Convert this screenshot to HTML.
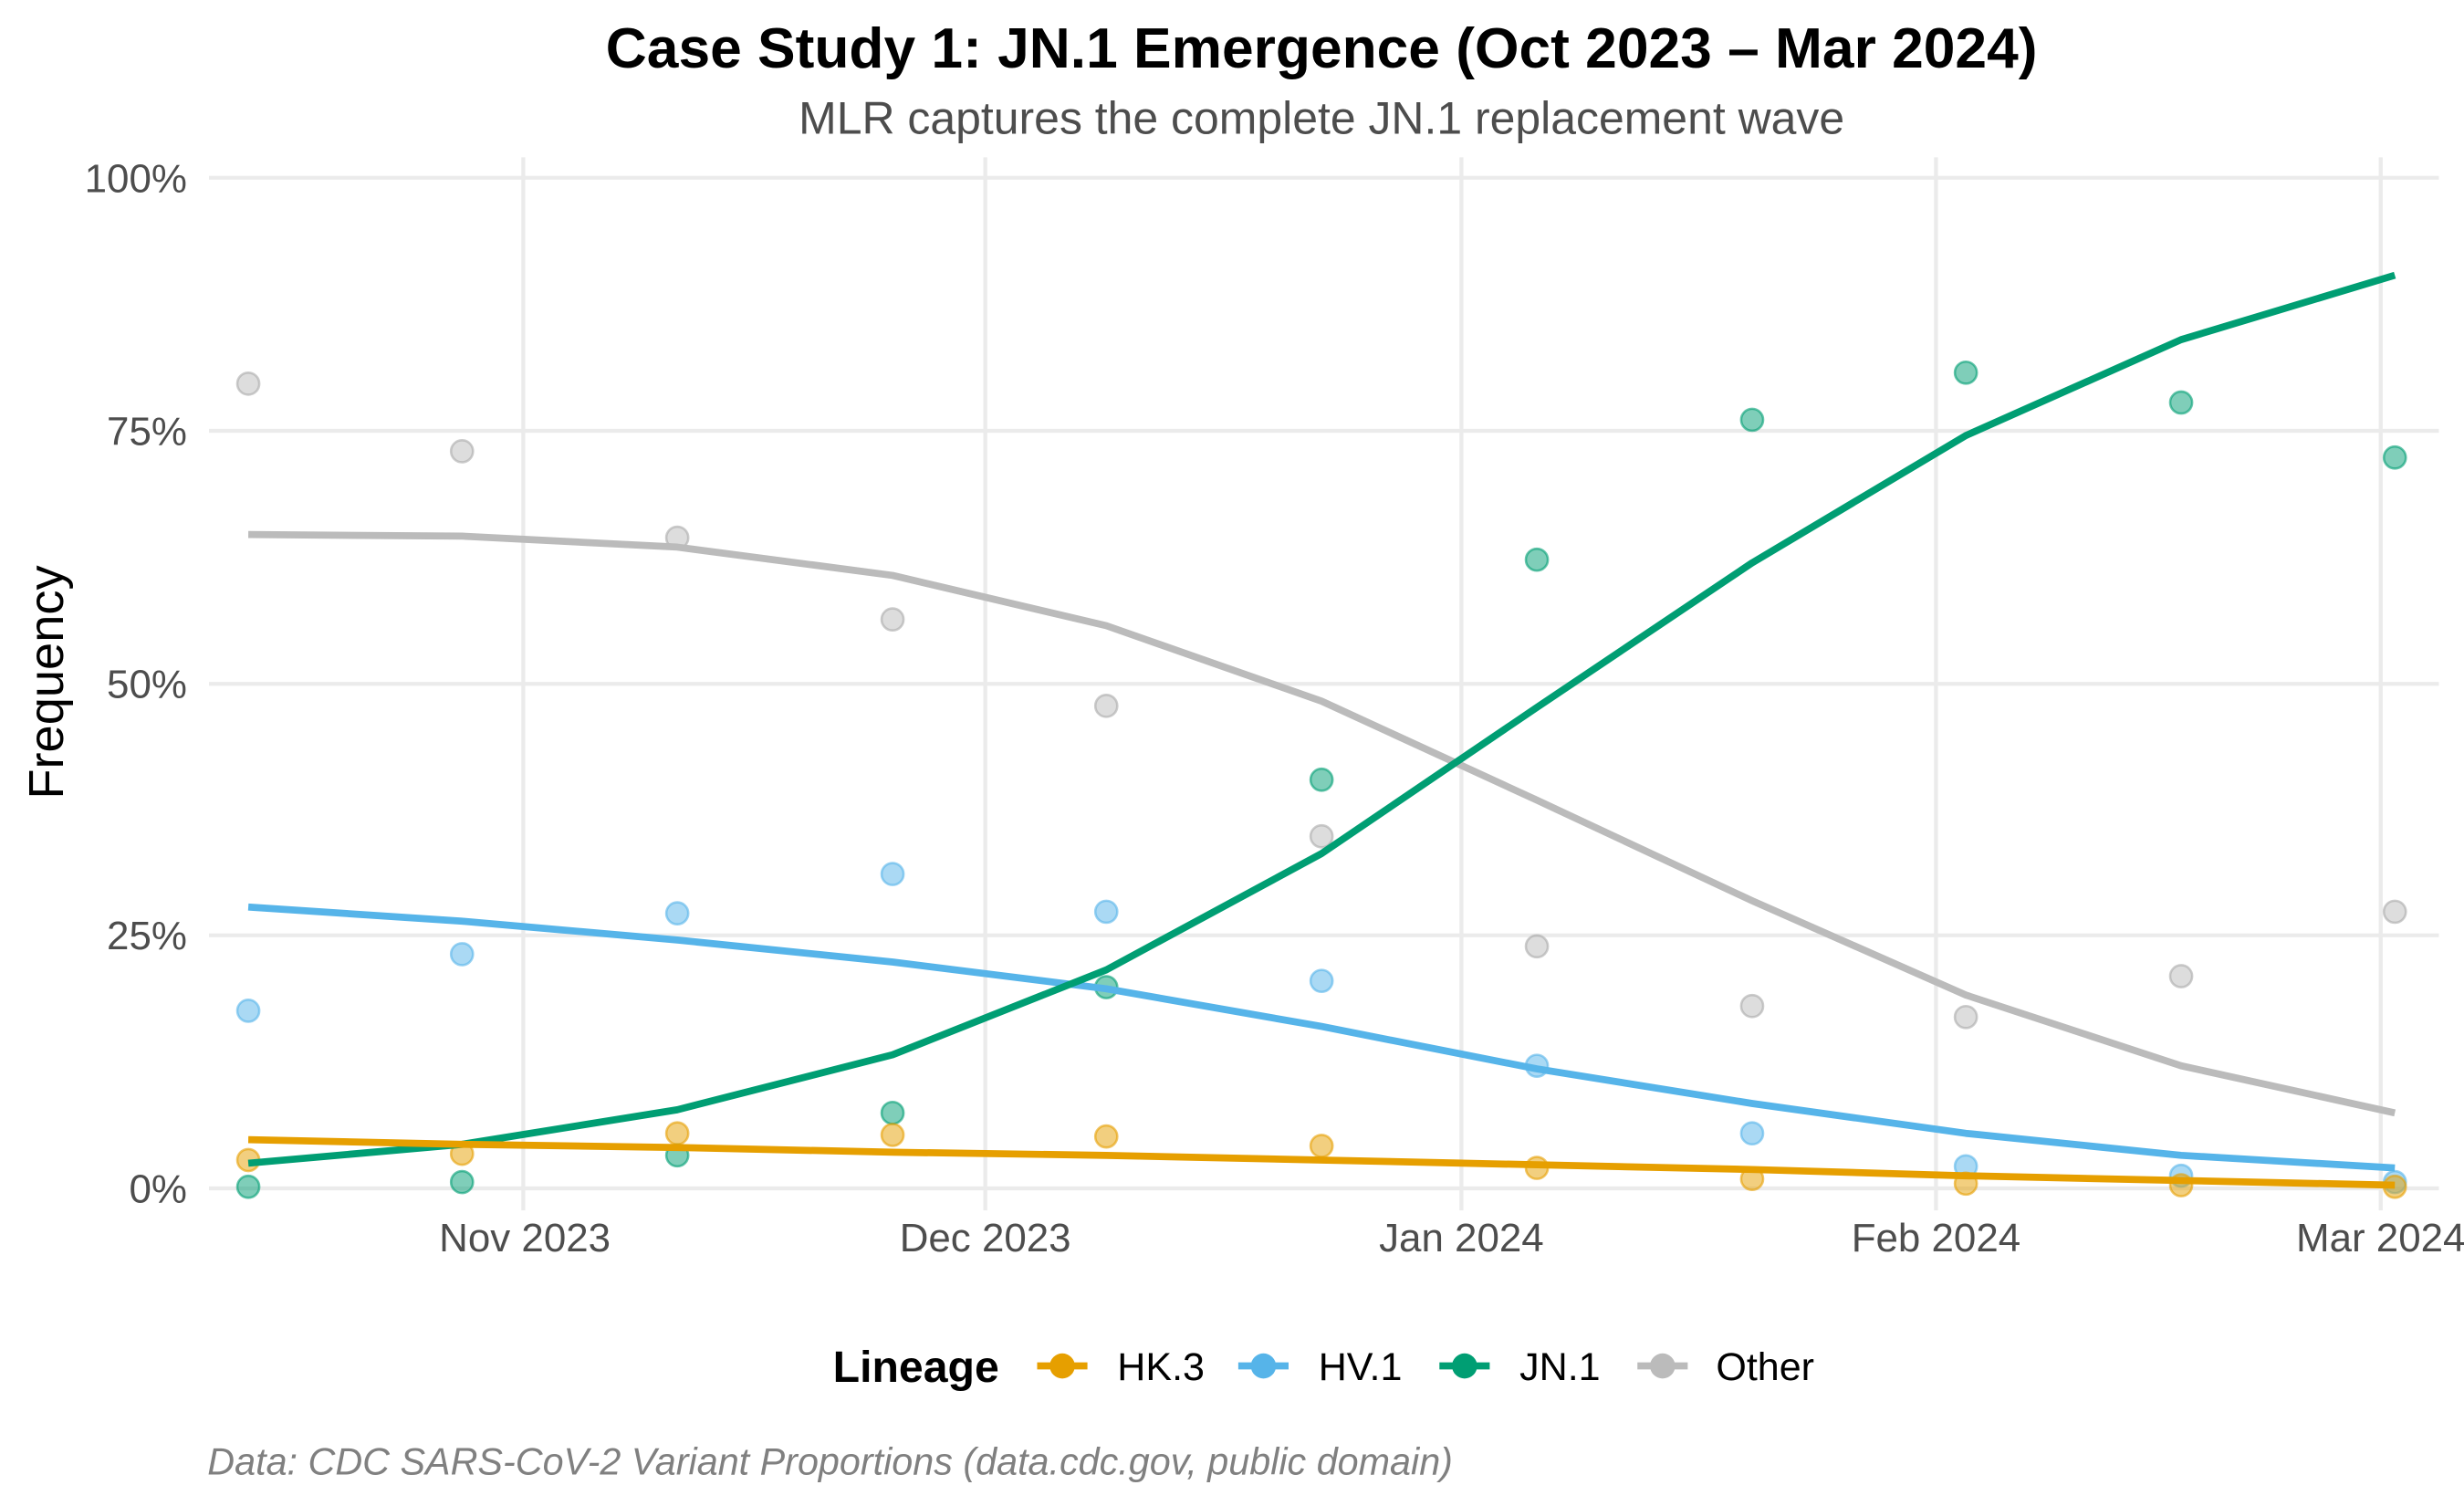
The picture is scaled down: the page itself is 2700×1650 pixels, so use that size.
<!DOCTYPE html>
<html><head><meta charset="utf-8"><style>
html,body{margin:0;padding:0;background:#fff;}
svg{display:block;}
text{font-family:"Liberation Sans",Arial,sans-serif;}
</style></head><body>
<svg width="2700" height="1650" viewBox="0 0 1568 958" xmlns="http://www.w3.org/2000/svg">
<rect width="1568" height="958" fill="#fff"/>
<text x="841" y="43" text-anchor="middle" font-size="36" font-weight="bold" fill="#000" textLength="911" lengthAdjust="spacingAndGlyphs">Case Study 1: JN.1 Emergence (Oct 2023 – Mar 2024)</text>
<text x="841" y="85" text-anchor="middle" font-size="29" fill="#4d4d4d">MLR captures the complete JN.1 replacement wave</text>
<g stroke="#ebebeb" stroke-width="2.5">
<line x1="133" x2="1552" y1="113" y2="113"/><line x1="133" x2="1552" y1="274" y2="274"/>
<line x1="133" x2="1552" y1="435" y2="435"/><line x1="133" x2="1552" y1="595" y2="595"/>
<line x1="133" x2="1552" y1="756" y2="756"/>
<line x1="333" x2="333" y1="100" y2="770"/><line x1="627" x2="627" y1="100" y2="770"/>
<line x1="930" x2="930" y1="100" y2="770"/><line x1="1232" x2="1232" y1="100" y2="770"/>
<line x1="1515" x2="1515" y1="100" y2="770"/>
</g>
<g font-size="25.5" fill="#4d4d4d" text-anchor="end">
<text x="119" y="122">100%</text><text x="119" y="283">75%</text><text x="119" y="444">50%</text>
<text x="119" y="604">25%</text><text x="119" y="765">0%</text>
</g>
<g font-size="25.5" fill="#4d4d4d" text-anchor="middle">
<text x="334" y="796">Nov 2023</text><text x="627" y="796">Dec 2023</text><text x="930" y="796">Jan 2024</text>
<text x="1232" y="796">Feb 2024</text><text x="1515" y="796">Mar 2024</text>
</g>
<text transform="translate(40,434) rotate(-90)" text-anchor="middle" font-size="31.5" fill="#000">Frequency</text>
<g fill-opacity="0.5" stroke-opacity="0.6" stroke-width="1.5">
<g fill="#BBBBBB" stroke="#aaa">
<circle cx="158" cy="244" r="7"/><circle cx="294" cy="287" r="7"/><circle cx="431" cy="342" r="7"/><circle cx="568" cy="394" r="7"/><circle cx="704" cy="449" r="7"/><circle cx="841" cy="532" r="7"/><circle cx="978" cy="602" r="7"/><circle cx="1115" cy="640" r="7"/><circle cx="1251" cy="647" r="7"/><circle cx="1388" cy="621" r="7"/><circle cx="1524" cy="580" r="7"/>
</g>
<g fill="#56B4E9" stroke="#56B4E9">
<circle cx="158" cy="643" r="7"/><circle cx="294" cy="607" r="7"/><circle cx="431" cy="581" r="7"/><circle cx="568" cy="556" r="7"/><circle cx="704" cy="580" r="7"/><circle cx="841" cy="624" r="7"/><circle cx="978" cy="678" r="7"/><circle cx="1115" cy="721" r="7"/><circle cx="1251" cy="742" r="7"/><circle cx="1388" cy="748" r="7"/><circle cx="1524" cy="752" r="7"/>
</g>
<g fill="#009E73" stroke="#009E73">
<circle cx="158" cy="755" r="7"/><circle cx="294" cy="752" r="7"/><circle cx="431" cy="735" r="7"/><circle cx="568" cy="708" r="7"/><circle cx="704" cy="628" r="7"/><circle cx="841" cy="496" r="7"/><circle cx="978" cy="356" r="7"/><circle cx="1115" cy="267" r="7"/><circle cx="1251" cy="237" r="7"/><circle cx="1388" cy="256" r="7"/><circle cx="1524" cy="291" r="7"/>
</g>
<g fill="#E69F00" stroke="#E69F00">
<circle cx="158" cy="738" r="7"/><circle cx="294" cy="734" r="7"/><circle cx="431" cy="721" r="7"/><circle cx="568" cy="722" r="7"/><circle cx="704" cy="723" r="7"/><circle cx="841" cy="729" r="7"/><circle cx="978" cy="743" r="7"/><circle cx="1115" cy="750" r="7"/><circle cx="1251" cy="753" r="7"/><circle cx="1388" cy="754" r="7"/><circle cx="1524" cy="755" r="7"/>
</g>
</g>
<g fill="none" stroke-width="4.5" stroke-linejoin="round">
<polyline stroke="#BBBBBB" points="158,340 294,341 431,348 568,366 704,398 841,446 978,509 1115,573 1251,633 1388,678 1524,708"/>
<polyline stroke="#56B4E9" points="158,577 294,586 431,598 568,612 704,629 841,653 978,680 1115,702 1251,721 1388,735 1524,743"/>
<polyline stroke="#009E73" points="158,740 294,728 431,706 568,671 704,617 841,543 978,450 1115,358 1251,277 1388,216 1524,175"/>
<polyline stroke="#E69F00" points="158,725 294,728 431,730 568,733 704,735 841,738 978,741 1115,744 1251,748 1388,751 1524,754"/>
</g>
<text x="530" y="879" font-size="28" font-weight="bold" fill="#000">Lineage</text>
<g stroke-width="4.5">
<line x1="660" x2="692" y1="869" y2="869" stroke="#E69F00"/><circle cx="676" cy="869" r="8" fill="#E69F00"/>
<line x1="788" x2="820" y1="869" y2="869" stroke="#56B4E9"/><circle cx="804" cy="869" r="8" fill="#56B4E9"/>
<line x1="916" x2="948" y1="869" y2="869" stroke="#009E73"/><circle cx="932" cy="869" r="8" fill="#009E73"/>
<line x1="1042" x2="1074" y1="869" y2="869" stroke="#BBBBBB"/><circle cx="1058" cy="869" r="8" fill="#BBBBBB"/>
</g>
<g font-size="25" fill="#000">
<text x="711" y="878">HK.3</text><text x="839" y="878">HV.1</text><text x="967" y="878">JN.1</text><text x="1092" y="878">Other</text>
</g>
<text x="132" y="938" font-size="24" font-style="italic" fill="#808080">Data: CDC SARS-CoV-2 Variant Proportions (data.cdc.gov, public domain)</text>
</svg>
</body></html>
